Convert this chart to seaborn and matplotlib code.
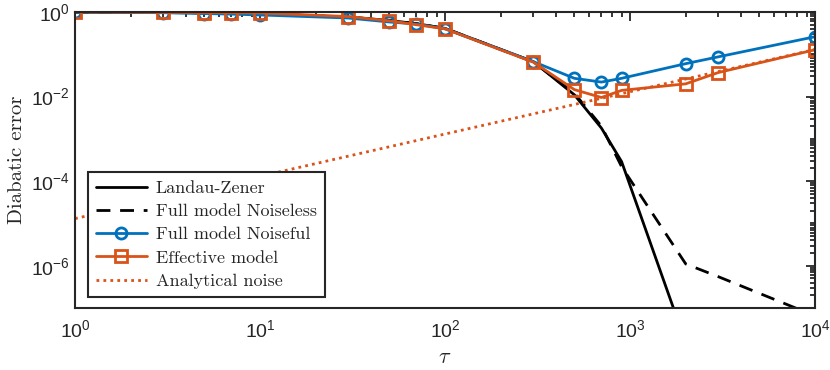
import numpy as np
import matplotlib
matplotlib.use("Agg")
import matplotlib.pyplot as plt
import matplotlib.ticker as mticker
import seaborn as sns

# data
tau = [1, 3, 5, 7, 10, 30, 50, 70, 100, 300, 500, 700, 900, 2000, 3000, 10000]
landau_zener = [0.99, 0.97, 0.955, 0.94, 0.91, 0.76, 0.63, 0.53, 0.41, 0.067,
                0.011, 1.8e-3, 2.9e-4, 1.5e-8, 1.8e-12, 1e-30]
noiseless = [0.99, 0.97, 0.955, 0.94, 0.91, 0.76, 0.63, 0.53, 0.41, 0.066,
             0.012, 2.0e-3, 2.2e-4, 1.1e-6, 5.5e-7, 6.5e-8]
noiseful = [1.0, 0.96, 0.92, 0.89, 0.85, 0.72, 0.58, 0.52, 0.40, 0.067,
            0.027, 0.022, 0.027, 0.060, 0.087, 0.26]
effective = [1.0, 0.98, 0.97, 0.96, 0.95, 0.78, 0.62, 0.50, 0.40, 0.065,
             0.0146, 0.0095, 0.014, 0.020, 0.037, 0.128]
tau_analytic = [1, 10000]
analytic = [1.3e-5, 0.13]

blue = "#0072BD"
orange = "#D95319"

sns.set_style("white")
plt.rcParams["font.family"] = ["Liberation Sans", "DejaVu Sans"]
plt.rcParams["mathtext.fontset"] = "custom"
plt.rcParams["mathtext.rm"] = "Liberation Sans"
plt.rcParams["mathtext.it"] = "Liberation Sans:italic"
plt.rcParams["axes.unicode_minus"] = False

fig = plt.figure(figsize=(8.3, 3.7), dpi=100)
ax = fig.add_axes([0.0904, 0.1676, 0.8916, 0.8])

lw = 2.0
sns.lineplot(x=tau, y=landau_zener, ax=ax, color="black", lw=lw,
             label="Landau-Zener")
sns.lineplot(x=tau, y=noiseless, ax=ax, color="black", lw=lw,
             linestyle=(0, (5, 3.5)), label="Full model Noiseless")
sns.lineplot(x=tau, y=noiseful, ax=ax, color=blue, lw=lw, marker="o",
             markersize=8, markerfacecolor="none", markeredgecolor=blue,
             markeredgewidth=2, label="Full model Noiseful")
sns.lineplot(x=tau, y=effective, ax=ax, color=orange, lw=lw, marker="s",
             markersize=8, markerfacecolor="none", markeredgecolor=orange,
             markeredgewidth=2, label="Effective model")
sns.lineplot(x=tau_analytic, y=analytic, ax=ax, color=orange, lw=lw,
             linestyle=(0, (1, 1.5)), dash_capstyle="butt",
             label="Analytical noise")

ax.set_xscale("log")
ax.set_yscale("log")
ax.set_xlim(1, 1e4)
ax.set_ylim(1e-7, 1.0)

ax.xaxis.set_major_locator(mticker.LogLocator(base=10, numticks=10))
ax.xaxis.set_minor_locator(mticker.LogLocator(base=10, subs=np.arange(2, 10), numticks=100))
ax.yaxis.set_major_locator(mticker.FixedLocator([1e-6, 1e-4, 1e-2, 1e0]))
ax.yaxis.set_minor_locator(mticker.LogLocator(base=10, subs=np.arange(1, 10), numticks=100))
ax.xaxis.set_minor_formatter(mticker.NullFormatter())
ax.yaxis.set_minor_formatter(mticker.NullFormatter())

axis_col = "#262626"
ax.tick_params(which="both", direction="in", top=True, right=True,
               color=axis_col, labelcolor=axis_col, labelsize=14, width=1.3)
ax.tick_params(which="major", length=6.5)
ax.tick_params(which="minor", length=3.5)
ax.tick_params(axis="x", pad=8)
for sp in ax.spines.values():
    sp.set_color(axis_col)
    sp.set_linewidth(1.5)

ax.set_xlabel(r"$\tau$", fontsize=16, color=axis_col)
ax.xaxis.label.set_math_fontfamily("cm")
ax.set_ylabel("Diabatic error", fontsize=15, family="cmr10", color=axis_col)

leg = ax.legend(loc="lower left", bbox_to_anchor=(0.0176, 0.037),
                borderaxespad=0,
                prop={"family": "cmr10", "size": 13}, handlelength=2.8,
                frameon=True, fancybox=False, borderpad=0.45,
                labelspacing=0.42, handletextpad=0.5)
leg.get_frame().set_edgecolor(axis_col)
leg.get_frame().set_linewidth(1.5)
leg.get_frame().set_alpha(1)

fig.savefig("out.png", dpi=100)
